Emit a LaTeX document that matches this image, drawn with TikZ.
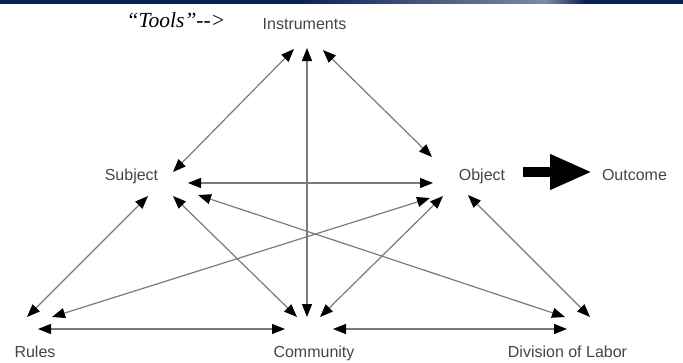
\documentclass[tikz,border=0pt]{standalone}
\usepackage{fontspec}
\usepackage{tikz}
\usepackage{xcolor}
\usetikzlibrary{arrows.meta}
\setmainfont{Liberation Sans}
\newfontfamily\toolsfont{Liberation Serif}
\definecolor{barnavy}{HTML}{0B2255}
\definecolor{barlight}{HTML}{7D8AA6}
\definecolor{labeltext}{HTML}{454545}
\definecolor{linkgray}{HTML}{7A7A7A}

\begin{document}
\begin{tikzpicture}[x=1pt, y=-1pt,
    lbl/.style={anchor=base, inner sep=0pt, text=labeltext, font=\fontsize{16}{19}\selectfont},
    link/.style={{Triangle[length=13pt,width=10pt,color=black]}-{Triangle[length=13pt,width=10pt,color=black]}, line width=1.2pt, linkgray},
    bigarr/.style={-{Triangle[length=42pt,width=33pt]}, line width=10pt, black}
]
    \useasboundingbox (0,0) rectangle (683,362);
    % title bar
    \fill[barnavy] (0,0) rectangle (683,3.5);
    \shade[left color=barnavy, right color=barlight] (300,0) rectangle (545,3.5);
    \shade[left color=barlight, right color=barnavy] (545,0) rectangle (585,3.5);

    \node[lbl, text=black, font=\toolsfont\itshape\fontsize{21.5}{24}\selectfont] (tools) at (176,27) {“Tools”-\kern0pt-\kern0pt>};
    \node[lbl] (instr) at (304.5,29) {Instruments};
    \node[lbl] (subj) at (131.5,180) {Subject};
    \node[lbl] (obj) at (482,180) {Object};
    \node[lbl] (outc) at (634.5,180) {Outcome};
    \node[lbl] (rules) at (35,357) {Rules};
    \node[lbl] (comm) at (314,357) {Community};
    \node[lbl] (dol) at (567.5,357) {Division of Labor};

    % arrow ends round each label
    \foreach \n/\x/\y in {is/294/49, ic/307/48, io/323/50,
                          si/173/172, so/188/183, sr/148/196, sc/173/196, sd/198/195,
                          oi/432/157, os/433/183, or/430/198, oc/443/196, od/468/195,
                          rs/27/317, ro/52/317, rc/38/329,
                          cs/297/317, ci/307/317, co/320/317, cr/285/329, cd/333/329,
                          ds/565/317, do/590/317, dc/567/329}
        \coordinate (\n) at (\x,\y);

    \draw[link] (is) -- (si);
    \draw[link] (ic) -- (ci);
    \draw[link] (io) -- (oi);
    \draw[link] (so) -- (os);
    \draw[link] (sr) -- (rs);
    \draw[link] (sc) -- (cs);
    \draw[link] (sd) -- (ds);
    \draw[link] (or) -- (ro);
    \draw[link] (oc) -- (co);
    \draw[link] (od) -- (do);
    \draw[link] (rc) -- (cr);
    \draw[link] (cd) -- (dc);

    % object to outcome
    \coordinate (ba) at (523,172);
    \coordinate (bb) at (592,172);
    \draw[bigarr] (ba) -- (bb);
\end{tikzpicture}
\end{document}
